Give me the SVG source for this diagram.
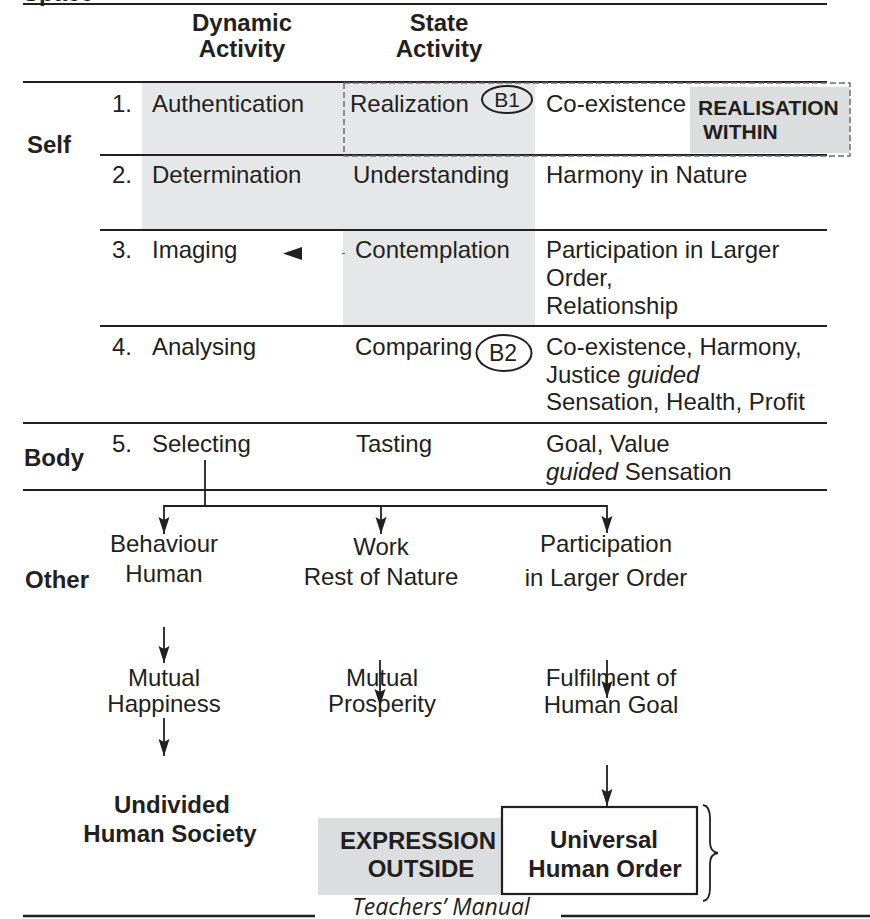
<svg xmlns="http://www.w3.org/2000/svg" width="870" height="919" viewBox="0 0 870 919">
<style>
text{font-family:"Liberation Sans",Arial,sans-serif;font-size:24px;fill:#231f20}
.b{font-weight:bold}
.m{text-anchor:middle}
.i{font-style:italic}
.rule{stroke:#231f20;stroke-width:1.8;fill:none}
.conn{stroke:#231f20;stroke-width:1.8;fill:none}
.gray{fill:#e6e7e8}
.box{fill:#dcddde}
</style>
<defs>
<marker id="ah" markerUnits="userSpaceOnUse" markerWidth="18" markerHeight="12" refX="17" refY="6" orient="auto" viewBox="0 0 18 12">
<path d="M0,0.5 L17,6 L0,11.5 L3,6 z" fill="#231f20"/>
</marker>
</defs>
<rect width="870" height="919" fill="#ffffff"/>

<g id="table-bg">
<rect class="gray" x="142" y="82" width="393" height="148"/>
<rect class="gray" x="343" y="230" width="192" height="96"/>
</g>

<g id="table-lines">
<line class="rule" x1="23" y1="4" x2="827" y2="4"/>
<line class="rule" x1="23" y1="82" x2="827" y2="82"/>
<line class="rule" x1="100" y1="155" x2="827" y2="155"/>
<line class="rule" x1="100" y1="230" x2="827" y2="230"/>
<line class="rule" x1="100" y1="326" x2="827" y2="326"/>
<line class="rule" x1="23" y1="423" x2="827" y2="423"/>
<line class="rule" x1="23" y1="490" x2="827" y2="490"/>
</g>

<g id="space-label"><text class="b" x="23" y="1">Space</text></g>

<g id="headers">
<text class="b m" x="242" y="31">Dynamic</text>
<text class="b m" x="242" y="57">Activity</text>
<text class="b m" x="439" y="31">State</text>
<text class="b m" x="439" y="57">Activity</text>
</g>

<g id="side-labels">
<text class="b" x="27" y="153">Self</text>
<text class="b" x="24" y="466">Body</text>
<text class="b" x="25" y="588">Other</text>
</g>

<g id="realisation-within">
<rect class="box" x="690" y="87" width="160" height="66"/>
<text class="b" x="698" y="115" style="font-size:21px">REALISATION</text>
<text class="b" x="703" y="139" style="font-size:21px">WITHIN</text>
<rect x="344" y="83" width="506" height="73" fill="none" stroke="#6d6e70" stroke-width="1.5" stroke-dasharray="6 3"/>
</g>

<g id="row1">
<text x="112" y="112">1.</text>
<text x="152" y="112">Authentication</text>
<text x="350" y="112">Realization</text>
<g id="B1">
<ellipse cx="507" cy="99.5" rx="25" ry="13.5" fill="none" stroke="#231f20" stroke-width="2"/>
<text class="m" x="507" y="107" style="font-size:21px">B1</text>
</g>
<text x="546" y="112">Co-existence</text>
</g>

<g id="row2">
<text x="112" y="183">2.</text>
<text x="152" y="183">Determination</text>
<text x="353" y="183">Understanding</text>
<text x="546" y="183">Harmony in Nature</text>
</g>

<g id="row3">
<text x="112" y="258">3.</text>
<text x="152" y="258">Imaging</text>
<text x="355" y="258">Contemplation</text>
<text x="546" y="258">Participation in Larger</text>
<text x="546" y="286">Order,</text>
<text x="546" y="314">Relationship</text>
</g>

<g id="row4">
<text x="112" y="355">4.</text>
<text x="152" y="355">Analysing</text>
<text x="355" y="355">Comparing</text>
<g id="B2">
<ellipse cx="504" cy="353" rx="27.5" ry="18" fill="none" stroke="#231f20" stroke-width="2"/>
<text class="m" x="503" y="361" style="font-size:23px">B2</text>
</g>
<text x="546" y="355">Co-existence, Harmony,</text>
<text x="546" y="383">Justice <tspan class="i">guided</tspan></text>
<text x="546" y="410">Sensation, Health, Profit</text>
</g>

<g id="row5">
<text x="112" y="452">5.</text>
<text x="152" y="452">Selecting</text>
<text x="356" y="452">Tasting</text>
<text x="546" y="452">Goal, Value</text>
<text x="546" y="480"><tspan class="i">guided</tspan> Sensation</text>
</g>

<g id="behaviour"><text class="m" x="164" y="552">Behaviour</text><text class="m" x="164" y="582">Human</text></g>
<g id="work"><text class="m" x="381" y="555">Work</text><text class="m" x="381" y="585">Rest of Nature</text></g>
<g id="participation"><text class="m" x="606" y="552">Participation</text><text class="m" x="606" y="586">in Larger Order</text></g>
<g id="mutual-happiness"><text class="m" x="164" y="686">Mutual</text><text class="m" x="164" y="712">Happiness</text></g>
<g id="mutual-prosperity"><text class="m" x="382" y="686">Mutual</text><text class="m" x="382" y="712">Prosperity</text></g>
<g id="fulfilment"><text class="m" x="611" y="686">Fulfilment of</text><text class="m" x="611" y="713">Human Goal</text></g>
<g id="undivided"><text class="b m" x="172" y="813">Undivided</text><text class="b m" x="170" y="842">Human Society</text></g>
<g id="expression-outside">
<rect class="box" x="318" y="818" width="186" height="77"/>
<text class="b m" x="418" y="849">EXPRESSION</text>
<text class="b m" x="421" y="877">OUTSIDE</text>
</g>
<g id="universal-order">
<rect x="502" y="807" width="195" height="87" fill="#ffffff" stroke="#231f20" stroke-width="2.2"/>
<text class="b m" x="604" y="848">Universal</text>
<text class="b m" x="605" y="877">Human Order</text>
</g>
<g id="brace">
<path d="M703,805 Q710,806 710,818 L710,842 Q710,852 718,853 Q710,854 710,864 L710,888 Q710,900 703,901" fill="none" stroke="#231f20" stroke-width="1.8"/>
</g>

<g id="connectors">
<polyline class="conn" points="205,460 205,506"/>
<polyline class="conn" points="164,506 607,506"/>
<line class="conn" x1="164" y1="505" x2="164" y2="534" marker-end="url(#ah)"/>
<line class="conn" x1="381" y1="506" x2="381" y2="534" marker-end="url(#ah)"/>
<line class="conn" x1="607" y1="505" x2="607" y2="533" marker-end="url(#ah)"/>
<line class="conn" x1="164" y1="627" x2="164" y2="663" marker-end="url(#ah)"/>
<line class="conn" x1="164" y1="718" x2="164" y2="756" marker-end="url(#ah)"/>
<line class="conn" x1="380" y1="660" x2="380" y2="706" marker-end="url(#ah)"/>
<line class="conn" x1="607" y1="660" x2="607" y2="698" marker-end="url(#ah)"/>
<line class="conn" x1="607" y1="765" x2="607" y2="806" marker-end="url(#ah)"/>
<polygon points="283,253.5 302,247 302,260" fill="#231f20"/>
<line x1="342" y1="253.5" x2="345" y2="253.5" stroke="#6d6e70" stroke-width="1.2"/>
</g>

<g id="footer">
<line class="rule" x1="23" y1="916" x2="315" y2="916" style="stroke-width:2.4"/>
<line class="rule" x1="561" y1="916" x2="870" y2="916" style="stroke-width:2.4"/>
<text class="i m" x="441" y="915" style="font-family:'Open Sans','Liberation Sans',sans-serif;font-size:23px">Teachers’ Manual</text>
</g>
</svg>
